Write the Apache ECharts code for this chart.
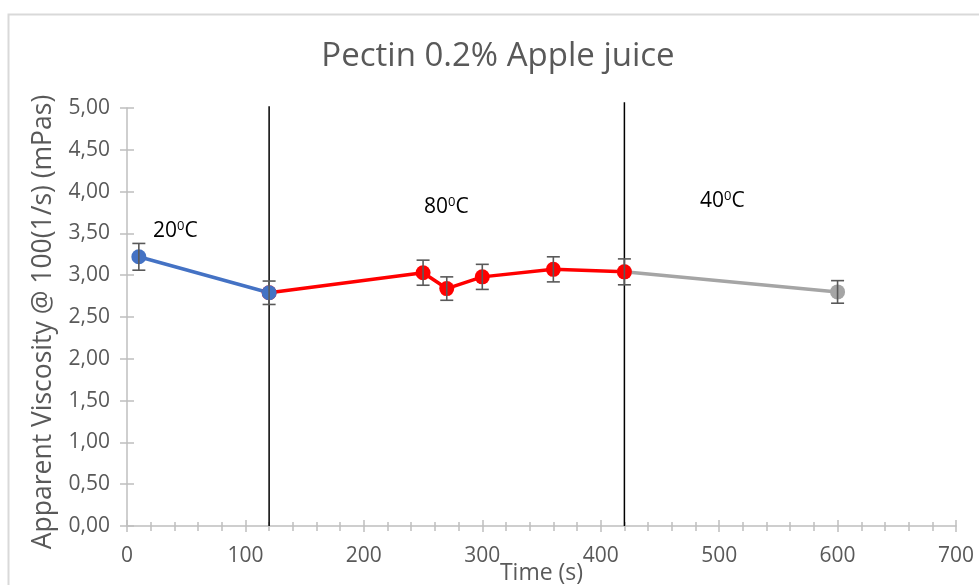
<!DOCTYPE html>
<html>
<head>
<meta charset="utf-8">
<script src="https://cdn.jsdelivr.net/npm/echarts@6/dist/echarts.min.js"></script>
<style>
  html, body { margin: 0; padding: 0; background: #fff; }
  #chart { width: 979px; height: 585px; }
</style>
</head>
<body>
<div id="chart"></div>
<script>
// Apparent viscosity of 0.2% pectin apple juice over a temperature cycle
const stage20Time = [10, 120];
const stage20Visc = [3.22, 2.79];
const stage20Err  = [0.16, 0.14];

const stage80Time = [120, 250, 270, 300, 360, 420];
const stage80Visc = [2.79, 3.03, 2.84, 2.98, 3.07, 3.04];
const stage80Err  = [0.14, 0.15, 0.14, 0.15, 0.15, 0.155];

const stage40Time = [420, 600];
const stage40Visc = [3.04, 2.80];
const stage40Err  = [0.155, 0.135];

// time marks where the temperature changes, with the top of each divider
const dividerTime = [120, 420];
const dividerTop  = [5.02, 5.07];

const xTicks = [0, 100, 200, 300, 400, 500, 600, 700];
const yTicks = [0, 0.5, 1, 1.5, 2, 2.5, 3, 3.5, 4, 4.5, 5];

const FONT = 'Open Sans';
const GREY_TEXT = '#595959';
const AXIS_GREY = '#BFBFBF';

function pairs(xs, ys) { return xs.map((x, i) => [x, ys[i]]); }
function errRows(xs, ys, es) { return xs.map((x, i) => [x, ys[i] - es[i], ys[i] + es[i]]); }

const allErr = errRows(stage20Time, stage20Visc, stage20Err)
  .concat(errRows(stage80Time.slice(1), stage80Visc.slice(1), stage80Err.slice(1)))
  .concat(errRows(stage40Time.slice(1), stage40Visc.slice(1), stage40Err.slice(1)));

function errorBar(params, api) {
  const x = api.value(0);
  const lo = api.coord([x, api.value(1)]);
  const hi = api.coord([x, api.value(2)]);
  const w = 6.5;
  const st = { stroke: '#595959', lineWidth: 1.6 };
  return {
    type: 'group',
    children: [
      { type: 'line', shape: { x1: lo[0], y1: lo[1], x2: hi[0], y2: hi[1] }, style: st },
      { type: 'line', shape: { x1: lo[0] - w, y1: lo[1], x2: lo[0] + w, y2: lo[1] }, style: st },
      { type: 'line', shape: { x1: hi[0] - w, y1: hi[1], x2: hi[0] + w, y2: hi[1] }, style: st }
    ]
  };
}

function stageSeries(xs, ys, color) {
  return {
    type: 'line',
    data: pairs(xs, ys),
    symbol: 'circle',
    symbolSize: 15,
    z: 5,
    lineStyle: { color: color, width: 3.5 },
    itemStyle: { color: color },
    emphasis: { disabled: true },
    animation: false
  };
}

const dividerSeries = dividerTime.map((t, i) => ({
  type: 'line',
  data: [[t, 0], [t, dividerTop[i]]],
  symbol: 'none',
  clip: false,
  z: 3,
  lineStyle: { color: '#000', width: 1.5 },
  animation: false
}));

const baseX = {
  type: 'value', min: 0, max: 700, interval: 100,
  splitLine: { show: false }
};
const baseY = {
  type: 'value', min: 0, max: 5, interval: 0.5,
  splitLine: { show: false }
};

const tempLabel = (txt, left, top) => ({
  type: 'text', left: left, top: top,
  style: {
    text: txt, fontFamily: FONT, fontSize: 21, fill: '#000',
    rich: { s: { fontFamily: FONT, fontSize: 13, verticalAlign: 'top', padding: [0, 0, 9, 0], fill: '#000' } }
  }
});

const option = {
  backgroundColor: '#fff',
  animation: false,
  title: {
    text: 'Pectin 0.2% Apple juice',
    left: 493,
    textAlign: 'center',
    top: 35,
    textStyle: { fontFamily: FONT, fontSize: 33, fontWeight: 'normal', color: GREY_TEXT }
  },
  grid: { left: 127, right: 23, top: 108, bottom: 59, outerBoundsMode: 'none', containLabel: false },
  xAxis: [
    Object.assign({}, baseX, {
      name: 'Time (s)',
      nameLocation: 'middle',
      nameGap: 36,
      nameMoveOverlap: false,
      nameTextStyle: { fontFamily: FONT, fontSize: 23, color: GREY_TEXT },
      axisLine: { show: true, lineStyle: { color: AXIS_GREY, width: 1.5 } },
      axisTick: { show: true, inside: false, length: 6, lineStyle: { color: AXIS_GREY, width: 1.5 } },
      minorTick: { show: true, splitNumber: 5, length: 5, lineStyle: { color: AXIS_GREY, width: 1.5 } },
      axisLabel: {
        margin: 20, fontFamily: FONT, fontSize: 21, color: GREY_TEXT,
        formatter: v => (xTicks.indexOf(v) >= 0 ? String(v) : '')
      }
    }),
    Object.assign({}, baseX, {
      position: 'bottom',
      axisLine: { show: false },
      axisTick: { show: true, inside: true, length: 6, lineStyle: { color: AXIS_GREY, width: 1.5 } },
      minorTick: { show: true, splitNumber: 5, length: 4, lineStyle: { color: AXIS_GREY, width: 1.5 } },
      axisLabel: { show: false }
    })
  ],
  yAxis: [
    Object.assign({}, baseY, {
      name: 'Apparent Viscosity @ 100(1/s) (mPas)',
      nameLocation: 'middle',
      nameGap: 70,
      nameRotate: 90,
      nameMoveOverlap: false,
      nameTextStyle: { fontFamily: FONT, fontSize: 26.5, color: GREY_TEXT, padding: [0, 10, 0, 0] },
      axisLine: { show: true, lineStyle: { color: AXIS_GREY, width: 1.5 } },
      axisTick: { show: true, inside: false, length: 7, lineStyle: { color: AXIS_GREY, width: 1.5 } },
      axisLabel: {
        margin: 17, fontFamily: FONT, fontSize: 21, color: GREY_TEXT,
        formatter: v => yTicks.find(t => Math.abs(t - v) < 1e-9).toFixed(2).replace('.', ',')
      }
    }),
    Object.assign({}, baseY, {
      position: 'left',
      axisLine: { show: false },
      axisTick: { show: true, inside: true, length: 7, lineStyle: { color: AXIS_GREY, width: 1.5 } },
      axisLabel: { show: false }
    })
  ],
  graphic: [
    {
      type: 'rect', left: 6, top: 12, silent: true,
      shape: { width: 990, height: 600 },
      style: { fill: 'none', stroke: '#D9D9D9', lineWidth: 2 }
    },
    tempLabel('20{s|0}C', 153, 220),
    tempLabel('80{s|0}C', 424, 196),
    tempLabel('40{s|0}C', 700, 190)
  ],
  series: dividerSeries.concat([
    stageSeries(stage40Time, stage40Visc, '#A5A5A5'),
    stageSeries(stage80Time, stage80Visc, '#FF0000'),
    stageSeries(stage20Time, stage20Visc, '#4472C4'),
    {
      type: 'custom',
      renderItem: errorBar,
      data: allErr,
      encode: { x: 0, y: [1, 2] },
      z: 10,
      clip: false,
      animation: false
    }
  ])
};

const chart = echarts.init(document.getElementById('chart'), null, { renderer: 'canvas' });
chart.setOption(option);
</script>
</body>
</html>
